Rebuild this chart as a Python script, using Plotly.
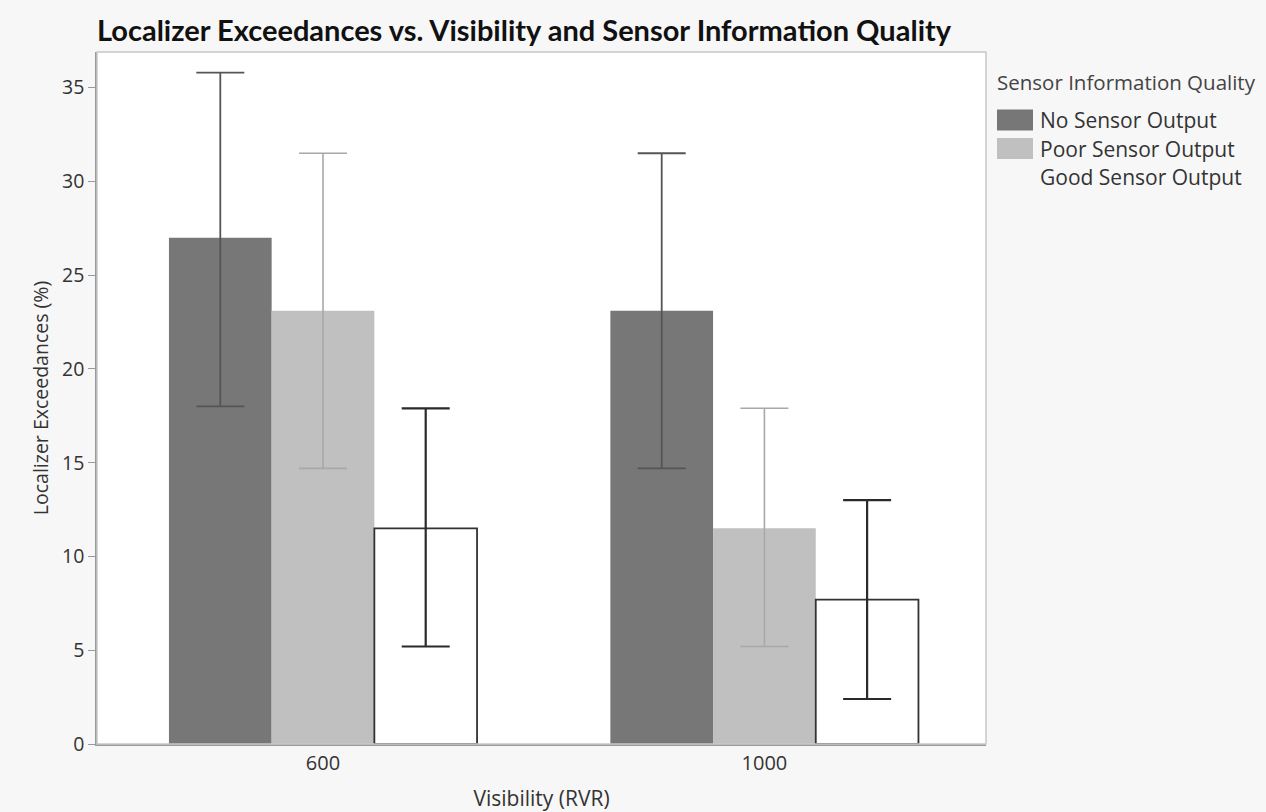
import plotly.graph_objects as go

# Exceedance percentages by visibility (RVR) and sensor information quality
visibility = ["600", "1000"]
series_names = ["No Sensor Output", "Poor Sensor Output", "Good Sensor Output"]
pct_none = [27.0, 23.1]
pct_poor = [23.1, 11.5]
pct_good = [11.5, 7.7]
# Confidence interval bounds (lower, upper)
low_none = [18.0, 14.7]
high_none = [35.8, 31.5]
low_poor = [14.7, 5.2]
high_poor = [31.5, 17.9]
low_good = [5.2, 2.4]
high_good = [17.9, 13.0]

fill_colors = ["#777777", "#c0c0c0", "#ffffff"]
err_colors = ["#555555", "#a8a8a8", "#2a2a2a"]
err_widths = [1.8, 1.6, 2.2]
outline_colors = ["#777777", "#c0c0c0", "#333333"]
outline_widths = [0, 0, 1.8]

values = [pct_none, pct_poor, pct_good]
lows = [low_none, low_poor, low_good]
highs = [high_none, high_poor, high_good]

FONT = "Open Sans"
W, H = 1266, 812
ML, MR, MT, MB = 97, 280, 52, 68
PW = W - ML - MR
PH = H - MT - MB


def px_x(x):
    return (x - ML) / PW


def px_y(y):
    return (H - MB - y) / PH


fig = go.Figure()
for name, vals, lo, hi, fc, ec, ew, oc, ow in zip(
    series_names, values, lows, highs, fill_colors, err_colors, err_widths,
    outline_colors, outline_widths,
):
    fig.add_trace(go.Bar(
        x=visibility,
        y=vals,
        name=name,
        marker=dict(color=fc, line=dict(color=oc, width=ow)),
        error_y=dict(
            type="data",
            symmetric=False,
            array=[h - v for h, v in zip(hi, vals)],
            arrayminus=[v - l for v, l in zip(vals, lo)],
            color=ec,
            thickness=ew,
            width=24,
        ),
        showlegend=False,
    ))

# Legend drawn as swatches plus labels to the right of the plot
shapes = [
    dict(type="rect", xref="paper", yref="paper", x0=0, x1=1, y0=0, y1=1,
         line=dict(color="#c8c8c8", width=1.5), layer="above"),
]
annotations = [
    dict(text="Sensor Information Quality", xref="paper", yref="paper",
         x=px_x(995), y=px_y(82), xanchor="left", yanchor="middle", showarrow=False,
         font=dict(family=FONT, size=20.5, color="#444444")),
]
row_centers = [120, 148.5, 177]
for name, fc, cy in zip(series_names, fill_colors, row_centers):
    if fc != "#ffffff":
        shapes.append(dict(
            type="rect", xref="paper", yref="paper",
            x0=px_x(997), x1=px_x(1033), y0=px_y(cy + 10.5), y1=px_y(cy - 10.5),
            fillcolor=fc, line=dict(width=0),
        ))
    annotations.append(dict(
        text=name, xref="paper", yref="paper", x=px_x(1038), y=px_y(cy),
        xanchor="left", yanchor="middle", showarrow=False,
        font=dict(family=FONT, size=21, color="#333333"),
    ))

fig.update_layout(
    width=W,
    height=H,
    margin=dict(l=ML, r=MR, t=MT, b=MB),
    paper_bgcolor="#f7f7f7",
    plot_bgcolor="#ffffff",
    barmode="group",
    bargap=0.302,
    bargroupgap=0.0,
    title=dict(
        text="<b>Localizer Exceedances vs. Visibility and Sensor Information Quality</b>",
        x=ML / W, xanchor="left", y=1 - 31 / H, yanchor="middle",
        font=dict(family="Lato", size=29, color="#111111"),
    ),
    font=dict(family=FONT, size=20, color="#333333"),
    xaxis=dict(
        type="category",
        range=[-0.512, 1.502],
        automargin=False,
        showline=True, linecolor="#9a9a9a", linewidth=1.5,
        ticks="", showgrid=False,
        tickfont=dict(family=FONT, size=20, color="#333333"),
        title=dict(text="Visibility (RVR)", font=dict(family=FONT, size=21, color="#333333"), standoff=20),
    ),
    yaxis=dict(
        range=[0, 36.9],
        automargin=False,
        tickvals=[0, 5, 10, 15, 20, 25, 30, 35],
        showline=True, linecolor="#9a9a9a", linewidth=1.5,
        ticks="outside", ticklen=7, tickcolor="#9a9a9a",
        showgrid=False, zeroline=False,
        tickfont=dict(family=FONT, size=19.5, color="#333333"),
        title=dict(text="Localizer Exceedances (%)", font=dict(family=FONT, size=19.5, color="#333333"), standoff=8),
    ),
    shapes=shapes,
    annotations=annotations,
)

fig.write_html("out.html")
